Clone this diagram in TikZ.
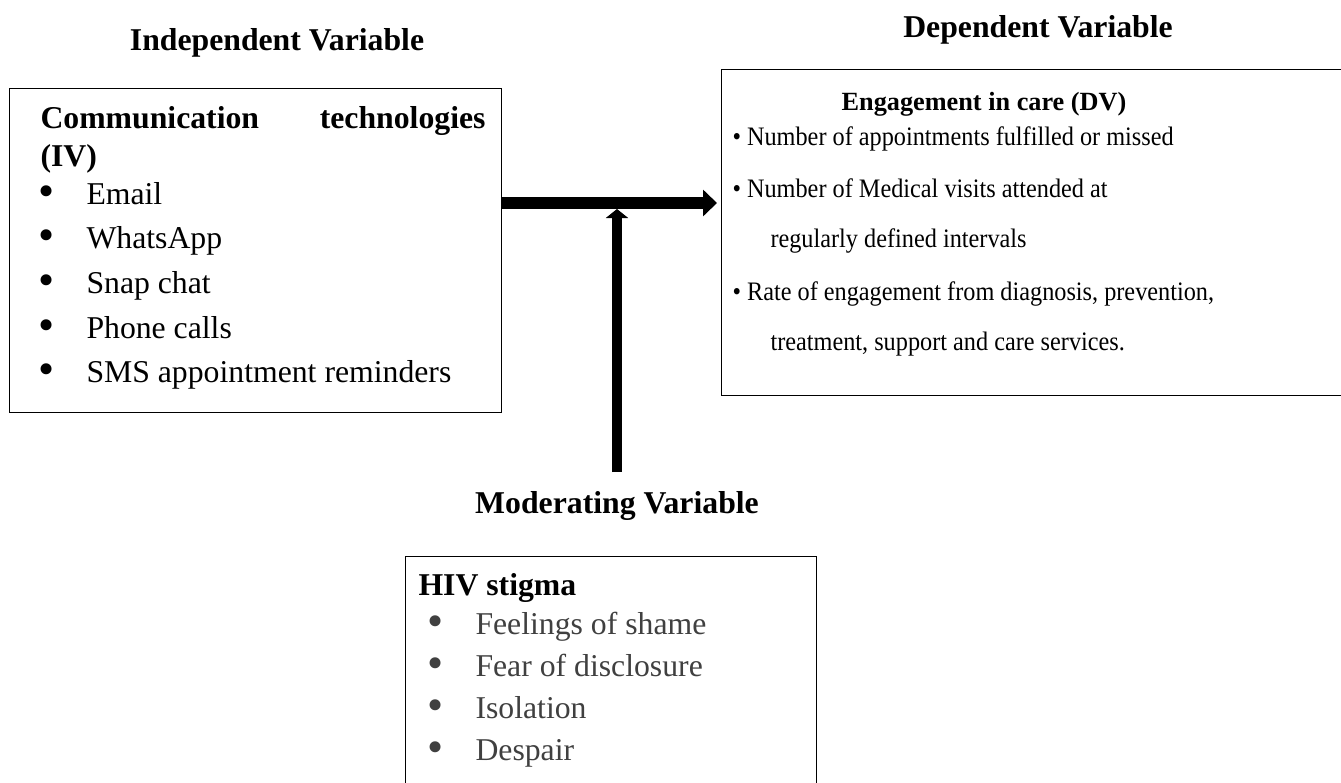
\documentclass[tikz,border=0pt]{standalone}
\usepackage{fontspec}
\setmainfont{Liberation Serif}
\usetikzlibrary{arrows.meta}

\definecolor{stigmagray}{RGB}{64,64,64}
\newcommand{\bodysize}{\fontsize{23.8}{28.5}\selectfont}
\newcommand{\dvsize}{\fontsize{20}{24}\selectfont}
\newcommand{\dvheadsize}{\fontsize{19.7}{24}\selectfont}
\newcommand{\itembullet}{\makebox[36pt][l]{\raisebox{-0.07em}{\scalebox{1.45}{\textbullet}}}}
\newcommand{\dvline}[1]{\scalebox{0.91}[1]{#1}}

\tikzset{every picture/.style={line width=0.75pt}}
\tikzset{
  varbox/.style={draw, anchor=north west, inner sep=0pt},
  headtext/.style={font=\bodysize\bfseries, inner sep=0.75pt, text height=16pt, text depth=4.5pt},
  bodytext/.style={font=\bodysize, inner sep=0.75pt, text height=16pt, text depth=4.5pt},
  dvtext/.style={font=\dvsize, inner sep=0.75pt},
  mainflow/.style={line width=9pt, -{Triangle[length=10.5pt,width=19.5pt]}},
  modflow/.style={line width=7.5pt, -{Triangle[length=6.75pt,width=16.5pt]}},
}

\begin{document}
\begin{tikzpicture}[x=0.75pt,y=0.75pt,yscale=-1,xscale=1]
\useasboundingbox (0,0) rectangle (1341,782);

%Shape: Rectangle [id:ivbox]
\draw (9,88) node [varbox, minimum width=369pt, minimum height=243pt] (ivbox) {};
%Shape: Rectangle [id:dvbox]
\draw (721,69) node [varbox, minimum width=468pt, minimum height=244.5pt] (dvbox) {};
%Shape: Rectangle [id:modbox]
\draw (405,556) node [varbox, minimum width=308.25pt, minimum height=183pt] (modbox) {};

% Text Node
\draw (277,50) node [anchor=base][headtext] (ivtitle) {Independent Variable};
% Text Node
\draw (1038,37) node [anchor=base][headtext] (dvtitle) {Dependent Variable};
% Text Node
\draw (617,513) node [anchor=base][headtext] (modtitle) {Moderating Variable};

% Text Node
\draw (39,128) node [anchor=base west][headtext] (ivhead) {Communication};
% Text Node
\draw (487,128) node [anchor=base east][headtext] (ivheadb) {technologies};
% Text Node
\draw (39,166) node [anchor=base west][headtext] (ivheadc) {(IV)};
% Text Node
\draw (37,204) node [anchor=base west][bodytext] (email) {\itembullet Email};
% Text Node
\draw (37,248) node [anchor=base west][bodytext] (whatsapp) {\itembullet WhatsApp};
% Text Node
\draw (37,293) node [anchor=base west][bodytext] (snapchat) {\itembullet Snap chat};
% Text Node
\draw (37,338) node [anchor=base west][bodytext] (phone) {\itembullet Phone calls};
% Text Node
\draw (37,382) node [anchor=base west][bodytext] (sms) {\itembullet SMS appointment reminders};

% Text Node
\draw (984,110) node [anchor=base][font=\dvheadsize\bfseries, inner sep=0.75pt] (dvhead) {Engagement in care (DV)};
% Text Node
\draw (731,145) node [anchor=base west][dvtext] (appts) {\dvline{\textbullet{} Number of appointments fulfilled or missed}};
% Text Node
\draw (731,197) node [anchor=base west][dvtext] (visits) {\dvline{\textbullet{} Number of Medical visits attended at}};
% Text Node
\draw (769,247) node [anchor=base west][dvtext] (visitsb) {\dvline{regularly defined intervals}};
% Text Node
\draw (731,300) node [anchor=base west][dvtext] (rate) {\dvline{\textbullet{} Rate of engagement from diagnosis, prevention,}};
% Text Node
\draw (769,350) node [anchor=base west][dvtext] (rateb) {\dvline{treatment, support and care services.}};

% Text Node
\draw (417,595) node [anchor=base west][headtext] (modhead) {HIV stigma};
% Text Node
\draw (426,634) node [anchor=base west][bodytext, text=stigmagray] (shame) {\itembullet Feelings of shame};
% Text Node
\draw (426,676) node [anchor=base west][bodytext, text=stigmagray] (disclose) {\itembullet Fear of disclosure};
% Text Node
\draw (426,718) node [anchor=base west][bodytext, text=stigmagray] (isolate) {\itembullet Isolation};
% Text Node
\draw (426,760) node [anchor=base west][bodytext, text=stigmagray] (despair) {\itembullet Despair};

%Straight Lines [id:mainflow]
\coordinate (hlevel) at (0,203);
\draw [mainflow, shorten >=3pt] (ivbox.east |- hlevel) -- (dvbox.west |- hlevel);
%Straight Lines [id:modflow]
\coordinate (junction) at (modtitle.north |- hlevel);
\draw [modflow, shorten <=13.5pt, shorten >=4.5pt] (modtitle.north) -- (junction);

\end{tikzpicture}
\end{document}
